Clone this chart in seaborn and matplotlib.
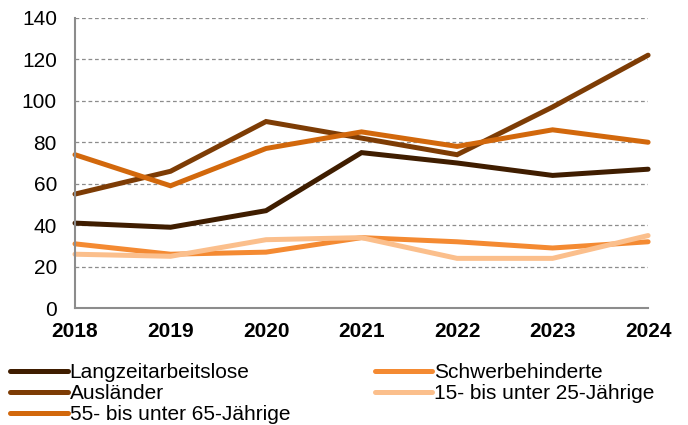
import seaborn as sns
import pandas as pd
import matplotlib.pyplot as plt

# Daten
jahre = [2018, 2019, 2020, 2021, 2022, 2023, 2024]
langzeit = [41, 39, 47, 75, 70, 64, 67]
auslaender = [55, 66, 90, 82, 74, 97, 122]
aeltere = [74, 59, 77, 85, 78, 86, 80]
schwerbehinderte = [31, 26, 27, 34, 32, 29, 32]
juengere = [26, 25, 33, 34, 24, 24, 35]

gruppen = ["Langzeitarbeitslose", "Ausländer", "55- bis unter 65-Jährige",
           "Schwerbehinderte", "15- bis unter 25-Jährige"]
farben = ["#3f1d00", "#7d3c05", "#d2680c", "#f48a32", "#fbbf8c"]

df = pd.concat([
    pd.DataFrame({"Jahr": jahre, "Wert": w, "Gruppe": g})
    for g, w in zip(gruppen, [langzeit, auslaender, aeltere, schwerbehinderte, juengere])
])

sns.set_style("white")
plt.rcParams["font.family"] = ["Liberation Sans", "DejaVu Sans"]

fig = plt.figure(figsize=(6.88, 4.25), dpi=100)
ax = fig.add_axes([0.109, 0.275, 0.833, 0.683])

for g, c in zip(gruppen, farben):
    sns.lineplot(data=df[df["Gruppe"] == g], x="Jahr", y="Wert", color=c,
                 linewidth=3.6, ax=ax, label=g, legend=False,
                 solid_capstyle="round", solid_joinstyle="miter", clip_on=False)

ax.set_xlim(2018, 2024)
ax.set_ylim(0, 140)
ax.set_yticks(range(0, 141, 20))
ax.set_xticks(jahre)
ax.set_xlabel("")
ax.set_ylabel("")
ax.yaxis.grid(True, linestyle=(0, (3, 2.2)), color="#8c8c8c", linewidth=0.9)
ax.set_axisbelow(True)
for s in ["top", "right"]:
    ax.spines[s].set_visible(False)
for s in ["left", "bottom"]:
    ax.spines[s].set_color("#8c8c8c")
    ax.spines[s].set_linewidth(1.5)
ax.tick_params(axis="both", direction="out", length=5, color="#8c8c8c",
               width=1.5, labelsize=15, labelcolor="black")
ax.tick_params(axis="y", pad=8)
ax.tick_params(axis="x", pad=5)
for lbl in ax.get_xticklabels():
    lbl.set_fontweight("bold")

handles = {h.get_label(): h for h in ax.get_lines()}
fig.legend([handles[g] for g in gruppen], gruppen, ncol=2, frameon=False,
           loc="upper left", bbox_to_anchor=(0.015, 0.146), fontsize=15,
           handlelength=2.75, handletextpad=0.1, columnspacing=4.05,
           labelspacing=0.1, borderaxespad=0, borderpad=0, labelcolor="black")

fig.savefig("out.png", dpi=100)
